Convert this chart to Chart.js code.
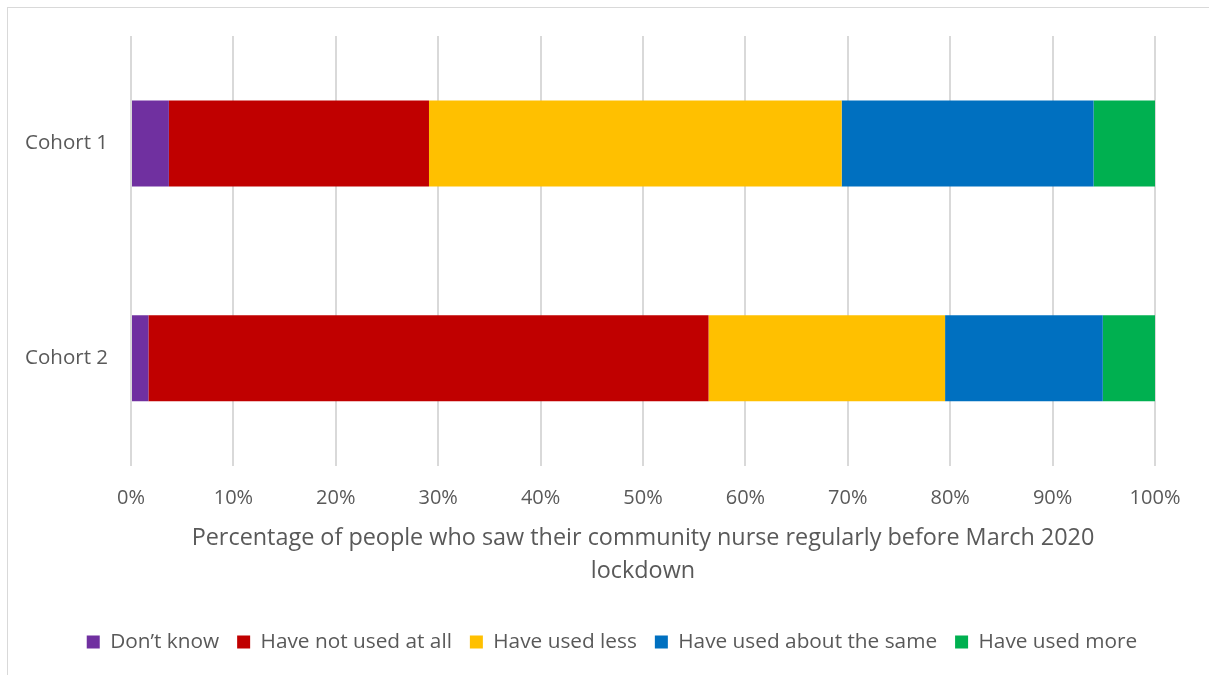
<!DOCTYPE html>
<html>
<head>
<meta charset="utf-8">
<script src="https://cdn.jsdelivr.net/npm/chart.js@4/dist/chart.umd.min.js"></script>
<style>
  html, body { margin: 0; padding: 0; background: #fff; }
  #wrap {
    position: absolute;
    left: 7px;
    top: 7px;
    width: 1202px;
    height: 668px;
    border-left: 1px solid #d9d9d9;
    border-top: 1px solid #d9d9d9;
  }
  canvas { display: block; }
</style>
</head>
<body>
<div id="wrap"><canvas id="chart"></canvas></div>
<script>
const cohorts = ["Cohort 1", "Cohort 2"];
const dontKnow = [3.7, 1.7];
const notUsed = [25.4, 54.7];
const usedLess = [40.3, 23.1];
const usedSame = [24.6, 15.4];
const usedMore = [6.0, 5.1];
const xTicks = [0, 10, 20, 30, 40, 50, 60, 70, 80, 90, 100];

const textColor = "#595959";
const font = "'Open Sans', 'DejaVu Sans', sans-serif";

const ctx = document.getElementById("chart").getContext("2d");

new Chart(ctx, {
  type: "bar",
  data: {
    labels: cohorts,
    datasets: [
      { label: "Don\u2019t know", data: dontKnow, backgroundColor: "#7030A0" },
      { label: "Have not used at all", data: notUsed, backgroundColor: "#C00000" },
      { label: "Have used less", data: usedLess, backgroundColor: "#FFC000" },
      { label: "Have used about the same", data: usedSame, backgroundColor: "#0070C0" },
      { label: "Have used more", data: usedMore, backgroundColor: "#00B050" },
    ],
  },
  options: {
    indexAxis: "y",
    responsive: true,
    maintainAspectRatio: false,
    animation: false,
    categoryPercentage: 0.4,
    barPercentage: 1,
    layout: {
      padding: { top: 28, right: 0, bottom: 13.5, left: 6 },
    },
    scales: {
      x: {
        stacked: true,
        min: 0,
        max: 100,
        afterBuildTicks: (scale) => {
          scale.ticks = xTicks.map((v) => ({ value: v }));
        },
        afterFit: (scale) => {
          scale.height = 148;
        },
        border: { display: false },
        grid: { color: "#d9d9d9", lineWidth: 2, drawTicks: false },
        ticks: {
          padding: 21,
          color: textColor,
          font: { family: font, size: 20 },
          callback: (v) => v + "%",
        },
        title: {
          display: true,
          text: [
            "Percentage of people who saw their community nurse regularly before March 2020",
            "lockdown",
          ],
          color: textColor,
          font: { family: font, size: 23.4, lineHeight: 1.41 },
          padding: { top: 0, bottom: 25.5 },
        },
      },
      y: {
        stacked: true,
        afterFit: (scale) => {
          scale.width = 117;
        },
        border: { display: false },
        grid: { display: false, drawTicks: false },
        ticks: {
          padding: 23,
          color: textColor,
          font: { family: font, size: 20.5, lineHeight: 0.2 },
        },
      },
      // empty axis that only keeps room on the right of the plot
      yRight: {
        type: "linear",
        position: "right",
        afterFit: (scale) => {
          scale.width = 55;
        },
        border: { display: false },
        grid: { display: false, drawTicks: false },
        ticks: { display: false },
      },
    },
    plugins: {
      legend: {
        position: "bottom",
        labels: {
          boxWidth: 13,
          boxHeight: 13,
          padding: 18,
          color: textColor,
          font: { family: font, size: 20.8 },
        },
      },
      tooltip: { enabled: false },
    },
  },
});
</script>
</body>
</html>
